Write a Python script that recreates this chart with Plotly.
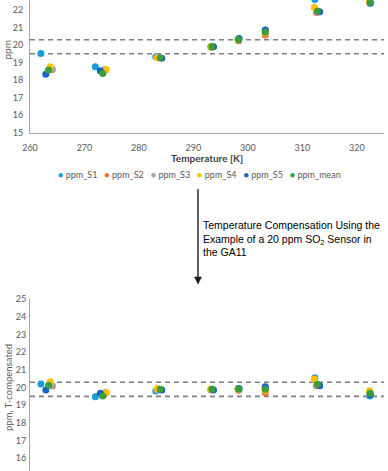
import plotly.graph_objects as go

W, H = 388, 471

series_names = ["ppm_S1", "ppm_S2", "ppm_S3", "ppm_S4", "ppm_S5", "ppm_mean"]
series_colors = ["#1A9BDA", "#EE7230", "#A5A5A5", "#FFC000", "#1565C8", "#3A9E3A"]

temp_S1 = [262.0, 272.0, 283.1, 293.2, 298.2, 303.2, 312.3, 322.4]
temp_S2 = [264.1, 273.9, 283.5, 293.3, 298.3, 303.2, 312.6, 322.4]
temp_S3 = [264.0, 273.7, 283.3, 293.3, 298.3, 303.2, 312.7, 322.4]
temp_S4 = [263.7, 274.0, 283.4, 293.2, 298.2, 303.2, 312.2, 322.35]
temp_S5 = [262.9, 272.9, 284.2, 293.7, 298.4, 303.2, 313.2, 322.5]
temp_mean = [263.4, 273.35, 283.9, 293.4, 298.3, 303.2, 312.8, 322.45]

ppm_S1 = [19.52, 18.76, 19.33, 19.90, 20.33, 20.84, 22.60, 22.45]
ppm_S2 = [18.60, 18.57, 19.28, 19.88, 20.25, 20.57, 21.85, 22.42]
ppm_S3 = [18.65, 18.60, 19.30, 19.90, 20.30, 20.70, 21.90, 22.45]
ppm_S4 = [18.76, 18.60, 19.28, 19.90, 20.30, 20.70, 22.15, 22.50]
ppm_S5 = [18.34, 18.53, 19.24, 19.90, 20.37, 20.86, 21.90, 22.38]
ppm_mean = [18.57, 18.38, 19.27, 19.90, 20.30, 20.75, 21.94, 22.44]

comp_S1 = [20.20, 19.48, 19.80, 19.88, 19.93, 20.00, 20.56, 19.52]
comp_S2 = [20.08, 19.70, 19.90, 19.88, 19.85, 19.70, 20.10, 19.72]
comp_S3 = [20.12, 19.70, 19.88, 19.90, 19.90, 19.85, 20.15, 19.70]
comp_S4 = [20.33, 19.72, 19.95, 19.90, 19.90, 19.85, 20.48, 19.82]
comp_S5 = [19.86, 19.67, 19.86, 19.86, 19.95, 20.05, 20.10, 19.60]
comp_mean = [20.13, 19.52, 19.90, 19.90, 19.92, 19.90, 20.18, 19.67]

tolerance_lines = [19.5, 20.3]
x_ticks = [260, 270, 280, 290, 300, 310, 320]
y_ticks_top = [15, 16, 17, 18, 19, 20, 21, 22]
y_ticks_bottom = [16, 17, 18, 19, 20, 21, 22, 23, 24, 25]

temps = [temp_S1, temp_S2, temp_S3, temp_S4, temp_S5, temp_mean]
raw = [ppm_S1, ppm_S2, ppm_S3, ppm_S4, ppm_S5, ppm_mean]
comp = [comp_S1, comp_S2, comp_S3, comp_S4, comp_S5, comp_mean]

FONT = "Lato"
TICKC = "#595959"

fig = go.Figure()
for name, col, t, r in zip(series_names, series_colors, temps, raw):
    fig.add_trace(go.Scatter(x=t, y=r, mode="markers", name=name, showlegend=False,
                             marker=dict(size=7, color=col), xaxis="x", yaxis="y"))
for name, col, t, c in zip(series_names, series_colors, temps, comp):
    fig.add_trace(go.Scatter(x=t, y=c, mode="markers", name=name, showlegend=False,
                             marker=dict(size=7, color=col), xaxis="x2", yaxis="y2"))

for ref_x, ref_y in (("x", "y"), ("x2", "y2")):
    for v in tolerance_lines:
        fig.add_shape(type="line", xref=ref_x + " domain", yref=ref_y, x0=0, x1=1, y0=v, y1=v,
                      line=dict(color="#7F7F7F", width=1.6, dash="5px,4px"), layer="below")

def px(xp):
    return xp / W

def py(yp):
    return 1 - yp / H

# arrow between the two panels
fig.add_shape(type="line", xref="paper", yref="paper", x0=px(198), x1=px(198),
              y0=py(189), y1=py(278), line=dict(color="#3A3A3A", width=1.6))
fig.add_shape(type="path", xref="paper", yref="paper",
              path=f"M {px(194.5)} {py(277)} L {px(201.5)} {py(277)} L {px(198)} {py(284)} Z",
              fillcolor="#1A1A1A", line=dict(color="#1A1A1A", width=0.5))

xdom = [px(30), px(384)]
axis_common = dict(showgrid=False, zeroline=False, automargin=False,
                   tickfont=dict(family=FONT, size=9, color=TICKC),
                   linecolor="#A6A6A6", linewidth=1, ticks="")

fig.update_layout(
    width=W, height=H, margin=dict(l=0, r=0, t=0, b=0),
    paper_bgcolor="white", plot_bgcolor="white", template="none",
    showlegend=False,
    xaxis=dict(domain=xdom, range=[260, 325], tickvals=x_ticks, showline=True,
               anchor="y", ticklabelstandoff=6, **axis_common),
    yaxis=dict(domain=[py(132.7), 1], range=[15, 22.57], tickvals=y_ticks_top, showline=True,
               anchor="x", ticklabelstandoff=4, **axis_common),
    xaxis2=dict(domain=xdom, range=[260, 325], tickvals=x_ticks, showline=False,
                showticklabels=False, anchor="y2", **axis_common),
    yaxis2=dict(domain=[0, py(299.3)], range=[15.27, 25], tickvals=y_ticks_bottom, showline=True,
                anchor="x2", ticklabelstandoff=1, **axis_common),
)

ann = []
ann.append(dict(text="<b>Temperature [K]</b>", x=px(207), y=py(158), xref="paper", yref="paper",
                xanchor="center", yanchor="middle",
                showarrow=False, font=dict(family=FONT, size=10, color="#404040")))
ann.append(dict(text="ppm", x=px(6.5), y=py(50), xref="paper", yref="paper", textangle=-90,
                xanchor="center", yanchor="middle",
                showarrow=False, font=dict(family=FONT, size=10, color=TICKC)))
ann.append(dict(text="ppm, T-compensated", x=px(8), y=py(388), xref="paper", yref="paper",
                xanchor="center", yanchor="middle",
                textangle=-90, showarrow=False, font=dict(family=FONT, size=9.5, color=TICKC)))

legend_items = []
for name, col in zip(series_names, series_colors):
    legend_items.append(f"<span style='color:{col}'>●</span> {name}")
ann.append(dict(text="&nbsp;&nbsp;&nbsp;".join(legend_items), x=px(200), y=py(175),
                xref="paper", yref="paper", showarrow=False, xanchor="center", yanchor="middle",
                font=dict(family=FONT, size=9, color=TICKC)))

ann.append(dict(text="Temperature Compensation Using the<br>Example of a 20 ppm SO<sub>2</sub> Sensor in<br>the GA11",
                x=px(201), y=py(217), xref="paper", yref="paper", xanchor="left", yanchor="top",
                align="left", showarrow=False,
                font=dict(family="Liberation Sans", size=10.5, color="#000000")))
fig.update_layout(annotations=ann)

fig.write_html("out.html", config={"displayModeBar": False},
               post_script="document.body.style.margin='0';document.body.style.padding='0';")
